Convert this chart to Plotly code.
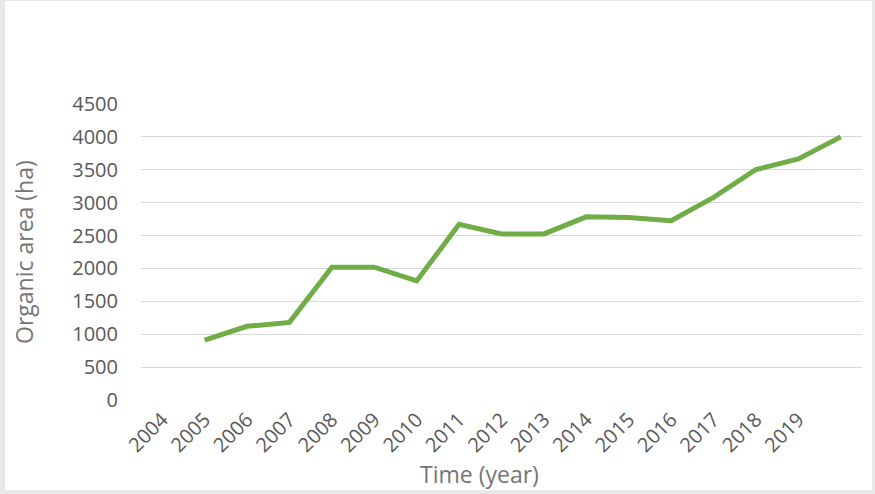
import plotly.graph_objects as go

# Category labels on the x axis (Excel chart had one trailing unlabeled slot)
tick_labels = ["2004", "2005", "2006", "2007", "2008", "2009", "2010", "2011",
               "2012", "2013", "2014", "2015", "2016", "2017", "2018", "2019", " "]
# Organic area (ha); the series occupies slots 2..17
organic_area = [None, 910, 1120, 1180, 2020, 2020, 1810, 2670, 2525, 2525,
                2785, 2775, 2725, 3080, 3505, 3665, 4000]
y_ticks = [0, 500, 1000, 1500, 2000, 2500, 3000, 3500, 4000, 4500]

GRAY = "#595959"
TGRAY = "#757575"
FONT = "Open Sans"

fig = go.Figure()
fig.add_trace(go.Scatter(
    x=tick_labels, y=organic_area, mode="lines",
    line=dict(color="#70AD47", width=5, shape="linear"),
    connectgaps=False, hoverinfo="skip", showlegend=False,
))

L, R, T, B = 141, 13, 104, 94
W, H = 875, 494
pw, ph = W - L - R, H - T - B

def px_x(p):
    return (p - L) / pw

def px_y(p):
    return (H - B - p) / ph

fig.update_layout(
    width=W, height=H,
    margin=dict(l=L, r=R, t=T, b=B, pad=0),
    paper_bgcolor="#e8e8e8",
    plot_bgcolor="white",
    font=dict(family=FONT, color=GRAY, size=20),
    shapes=[dict(type="rect", xref="paper", yref="paper", layer="below",
                 x0=px_x(5), x1=px_x(872), y0=px_y(490), y1=px_y(1),
                 fillcolor="white", line=dict(width=0))],
    xaxis=dict(
        type="category", categoryorder="array", categoryarray=tick_labels,
        range=[-0.5, len(tick_labels) - 0.5],
        showgrid=False, showline=False, zeroline=False, ticks="",
        tickangle=-45, tickfont=dict(size=20, color=GRAY, family=FONT),
        ticklabelstandoff=3, fixedrange=True,
    ),
    yaxis=dict(
        range=[0, 4500], tickvals=y_ticks, ticktext=[str(v) for v in y_ticks],
        showgrid=True, gridcolor="#d9d9d9", gridwidth=1.3,
        zeroline=False, showline=False, ticks="",
        tickfont=dict(size=20, color=GRAY, family=FONT),
        ticklabelstandoff=22, fixedrange=True,
    ),
    annotations=[
        dict(text="Organic area (ha)", xref="paper", yref="paper",
             x=px_x(24), y=px_y(252), textangle=-90, showarrow=False,
             xanchor="center", yanchor="middle",
             font=dict(size=23, color=TGRAY, family=FONT)),
        dict(text="Time (year)", xref="paper", yref="paper",
             x=px_x(479), y=px_y(474), showarrow=False,
             xanchor="center", yanchor="middle",
             font=dict(size=23, color=TGRAY, family=FONT)),
    ],
)

fig.write_html("out.html")
